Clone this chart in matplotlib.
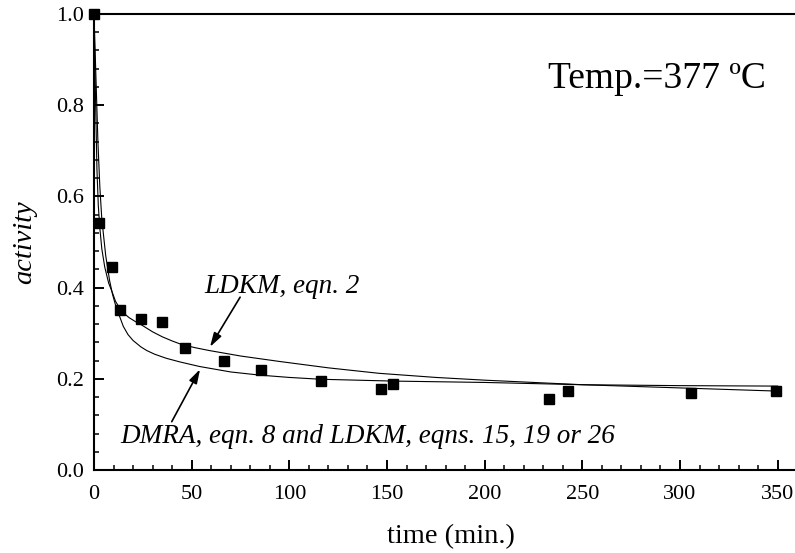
import matplotlib
matplotlib.use("Agg")
import matplotlib.pyplot as plt
from matplotlib.ticker import MultipleLocator

# measured activity (squares)
t_data = [0, 2.7, 9.4, 13.1, 24.1, 34.7, 46.6, 66.6, 85.4, 116.1,
          146.9, 153.3, 232.9, 242.5, 305.8, 349.2]
a_data = [1.0, 0.541, 0.446, 0.351, 0.331, 0.325, 0.268, 0.238, 0.219, 0.195,
          0.178, 0.189, 0.156, 0.173, 0.168, 0.173]

# LDKM, eqn. 2 curve
t_ldkm = [0, 0.4, 0.9, 1.5, 2.2, 3, 4, 5.5, 7.5, 9.5, 11, 13, 15.5, 18, 21,
          24, 30, 35, 40, 45, 52, 59, 67, 75, 85, 95, 120, 146, 175, 200,
          250, 300, 350]
a_ldkm = [1.0, 0.9, 0.79, 0.66, 0.58, 0.53, 0.485, 0.445, 0.41, 0.388, 0.37,
          0.356, 0.343, 0.334, 0.326, 0.319, 0.303, 0.292, 0.283, 0.275,
          0.268, 0.262, 0.256, 0.25, 0.244, 0.238, 0.224, 0.212, 0.203,
          0.197, 0.187, 0.18, 0.173]

# DMRA, eqn. 8 / LDKM eqns. 15, 19, 26 curve
t_dmra = [0, 0.5, 1, 2, 3, 4, 6, 8, 9.5, 11, 13, 15, 17.4, 20, 24, 27, 31,
          37, 44, 54, 70, 85, 100, 116, 153, 200, 250, 300, 350]
a_dmra = [1.0, 0.93, 0.86, 0.72, 0.62, 0.55, 0.47, 0.415, 0.385, 0.362,
          0.338, 0.315, 0.297, 0.284, 0.27, 0.262, 0.254, 0.245, 0.237,
          0.227, 0.215, 0.208, 0.203, 0.199, 0.195, 0.192, 0.187, 0.185,
          0.184]

plt.rcParams['font.family'] = ['Liberation Serif', 'DejaVu Serif']

fig = plt.figure(figsize=(7.95, 5.53), dpi=100)
ax = fig.add_axes([94 / 795, 83 / 553, 713 / 795, 456 / 553])

ax.plot(t_ldkm, a_ldkm, color='black', lw=0.8)
ax.plot(t_dmra, a_dmra, color='black', lw=0.8)
ax.plot(t_data, a_data, 's', color='black', markersize=7.5, clip_on=False, zorder=5)

ax.set_xlim(0, 365)
ax.set_ylim(0, 1.0)
ax.xaxis.set_major_locator(MultipleLocator(50))
ax.xaxis.set_minor_locator(MultipleLocator(10))
ax.yaxis.set_major_locator(MultipleLocator(0.2))
ax.yaxis.set_minor_locator(MultipleLocator(0.04))
ax.set_xticks([0, 50, 100, 150, 200, 250, 300, 350])
ax.set_yticks([0.0, 0.2, 0.4, 0.6, 0.8, 1.0])
ax.set_yticklabels(['0.0', '0.2', '0.4', '0.6', '0.8', '1.0'])

ax.tick_params(which='major', direction='in', length=7, width=1.4, labelsize=16)
ax.tick_params(which='minor', direction='in', length=3.6, width=1.1)
ax.tick_params(axis='x', which='major', pad=11)
ax.tick_params(axis='y', which='major', pad=7.5)
ax.tick_params(top=False, right=False, which='both')
for side in ['left', 'bottom', 'top']:
    ax.spines[side].set_linewidth(1.5)
ax.spines['right'].set_visible(False)

ax.set_xlabel('time (min.)', fontsize=20.5, labelpad=14)
ax.set_ylabel('activity', fontsize=20.5, style='italic', labelpad=13)

ax.text(232.5, 0.838, 'Temp.=377 ºC', fontsize=27, ha='left', va='baseline')

ax.annotate('', xy=(59.4, 0.270), xytext=(74.8, 0.379),
            arrowprops=dict(arrowstyle='-|>,head_length=0.6,head_width=0.18',
                            color='black', lw=1.2,
                            mutation_scale=14, shrinkA=0, shrinkB=0))
ax.text(56.3, 0.3875, 'LDKM, eqn. 2', fontsize=19.5, style='italic',
        ha='left', va='baseline')

ax.annotate('', xy=(54.3, 0.221), xytext=(39.8, 0.106),
            arrowprops=dict(arrowstyle='-|>,head_length=0.6,head_width=0.18',
                            color='black', lw=1.2,
                            mutation_scale=14, shrinkA=0, shrinkB=0))
ax.text(13.5, 0.0585, 'DMRA, eqn. 8 and LDKM, eqns. 15, 19 or 26',
        fontsize=19.5, style='italic', ha='left', va='baseline')

fig.savefig('out.png', dpi=100)
